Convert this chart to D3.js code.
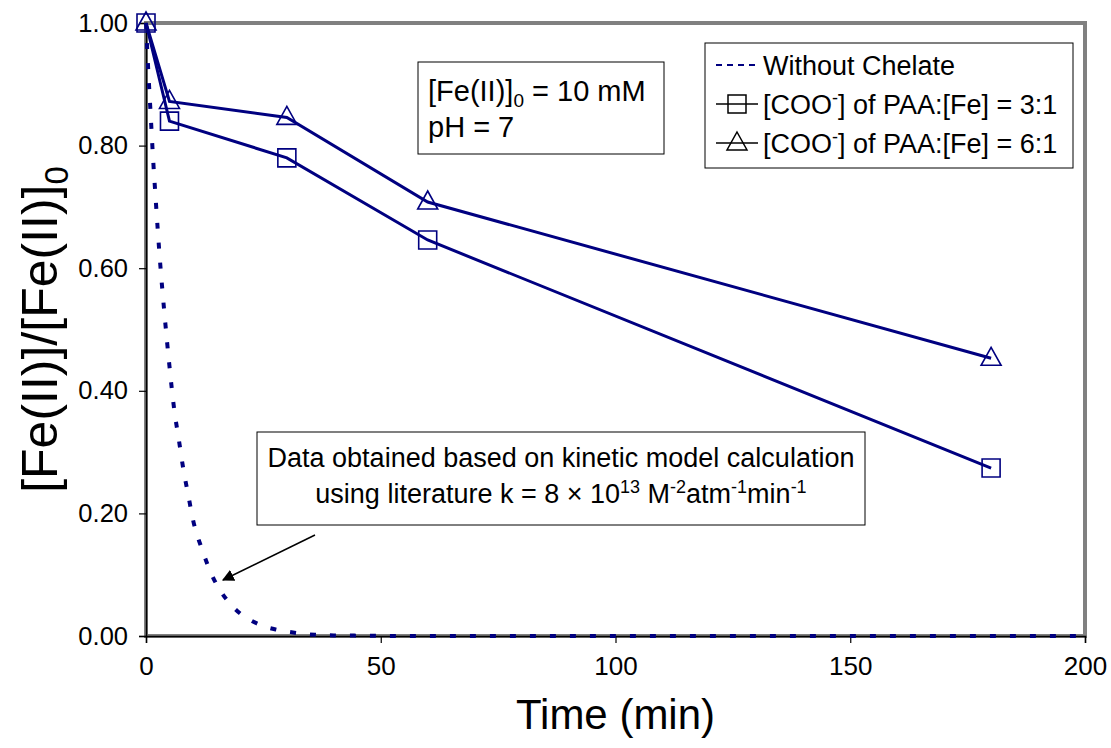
<!DOCTYPE html>
<html>
<head>
<meta charset="utf-8">
<script src="https://cdn.jsdelivr.net/npm/d3@7"></script>
<style>
  html, body { margin: 0; padding: 0; background: #fff; }
  svg text { font-family: "Liberation Sans", Arial, sans-serif; fill: #000; }
</style>
</head>
<body>
<div id="chart"></div>
<script>
// measured points
const timeMeasured = [0, 5, 30, 60, 180];
const ratio31 = [1.00, 0.840, 0.780, 0.646, 0.274];
const ratio61 = [1.00, 0.872, 0.846, 0.708, 0.453];

// kinetic model curve (no chelate)
const timeModel = [0, 0.5, 1, 1.5, 2, 3, 4, 5, 6, 7, 8, 9, 10, 12, 14, 16, 18, 20, 22, 25, 28, 32, 36, 40, 60, 100, 150, 200];
const ratioModel = [1.00, 0.92, 0.85, 0.78, 0.72, 0.61, 0.52, 0.44, 0.37, 0.32, 0.27, 0.23, 0.19, 0.14, 0.10, 0.072, 0.052, 0.037, 0.027, 0.016, 0.010, 0.005, 0.002, 0.001, 0, 0, 0, 0];

const xTicks = [0, 50, 100, 150, 200];
const yTicks = [0, 0.2, 0.4, 0.6, 0.8, 1.0];

const width = 1111, height = 748;
const navy = '#000080';

const svg = d3.select('#chart').append('svg')
  .attr('width', width)
  .attr('height', height);

const x = d3.scaleLinear().domain([0, 200]).range([146, 1085]);
const y = d3.scaleLinear().domain([0, 1]).range([636, 23]);

// plot area border
svg.append('rect')
  .attr('x', x(0)).attr('y', y(1))
  .attr('width', x(200) - x(0)).attr('height', y(0) - y(1))
  .attr('fill', 'none')
  .attr('stroke', '#808080')
  .attr('stroke-width', 4);

// axes
const xAxis = svg.append('g')
  .attr('transform', `translate(0,${y(0)})`)
  .call(d3.axisBottom(x).tickValues(xTicks).tickSize(7).tickPadding(14).tickFormat(d3.format('d')));
const yAxis = svg.append('g')
  .attr('transform', `translate(${x(0)},0)`)
  .call(d3.axisLeft(y).tickValues(yTicks).tickSize(7).tickPadding(11).tickFormat(d3.format('.2f')));

[xAxis, yAxis].forEach(g => {
  g.select('.domain').attr('stroke', '#000').attr('stroke-width', 1.5);
  g.selectAll('.tick line').attr('stroke', '#000').attr('stroke-width', 1.2);
  g.selectAll('.tick text').attr('font-family', '"Liberation Sans", Arial, sans-serif').attr('fill', '#000');
});
xAxis.selectAll('.tick text').attr('font-size', 26);
yAxis.selectAll('.tick text').attr('font-size', 25.5);

// axis titles
svg.append('text')
  .attr('x', (x(0) + x(200)) / 2)
  .attr('y', 729)
  .attr('text-anchor', 'middle')
  .attr('font-size', 42)
  .text('Time (min)');

const yTitle = svg.append('text')
  .attr('transform', `translate(57,${(y(0) + y(1)) / 2}) rotate(-90)`)
  .attr('text-anchor', 'middle')
  .attr('font-size', 50);
yTitle.append('tspan').text('[Fe(II)]/[Fe(II)]');
yTitle.append('tspan').attr('font-size', 33).attr('dy', 11).text('0');

// model curve
const modelPts = timeModel.map((t, i) => [t, ratioModel[i]]);
svg.append('path')
  .datum(modelPts)
  .attr('fill', 'none')
  .attr('stroke', navy)
  .attr('stroke-width', 4)
  .attr('stroke-dasharray', '6,14')
  .attr('d', d3.line().x(d => x(d[0])).y(d => y(d[1])).curve(d3.curveMonotoneX));

// measured series
const line = d3.line().x(d => x(d[0])).y(d => y(d[1]));
const series = [
  { name: '3:1', values: ratio31, marker: 'square' },
  { name: '6:1', values: ratio61, marker: 'triangle' }
];

const square = d3.symbol().type(d3.symbolSquare).size(18 * 18);
const triangle = 'M0,-11L10,7L-10,7Z';

series.forEach(s => {
  const pts = timeMeasured.map((t, i) => [t, s.values[i]]);
  svg.append('path')
    .datum(pts)
    .attr('fill', 'none')
    .attr('stroke', navy)
    .attr('stroke-width', 3)
    .attr('d', line);
  svg.selectAll(null)
    .data(pts)
    .enter()
    .append('path')
    .attr('transform', d => `translate(${x(d[0])},${y(d[1])})`)
    .attr('d', s.marker === 'square' ? square() : triangle)
    .attr('fill', 'none')
    .attr('stroke', navy)
    .attr('stroke-width', 1.6);
});

// info box
svg.append('rect')
  .attr('x', 418).attr('y', 62).attr('width', 246).attr('height', 92)
  .attr('fill', '#fff').attr('stroke', '#000').attr('stroke-width', 1);
const info1 = svg.append('text').attr('x', 428).attr('y', 101).attr('font-size', 29);
info1.append('tspan').text('[Fe(II)]');
info1.append('tspan').attr('font-size', 19).attr('dy', 6).text('0');
info1.append('tspan').attr('dy', -6).text(' = 10 mM');
svg.append('text').attr('x', 428).attr('y', 137).attr('font-size', 29).text('pH = 7');

// annotation box
svg.append('rect')
  .attr('x', 257).attr('y', 432).attr('width', 608).attr('height', 93)
  .attr('fill', '#fff').attr('stroke', '#000').attr('stroke-width', 1);
svg.append('text').attr('x', 561).attr('y', 467).attr('font-size', 27)
  .attr('text-anchor', 'middle')
  .text('Data obtained based on kinetic model calculation');
const ann2 = svg.append('text').attr('x', 561).attr('y', 503).attr('font-size', 27)
  .attr('text-anchor', 'middle');
ann2.append('tspan').text('using literature k = 8 \u00d7 10');
ann2.append('tspan').attr('font-size', 18).attr('dy', -10).text('13');
ann2.append('tspan').attr('dy', 10).text(' M');
ann2.append('tspan').attr('font-size', 18).attr('dy', -10).text('-2');
ann2.append('tspan').attr('dy', 10).text('atm');
ann2.append('tspan').attr('font-size', 18).attr('dy', -10).text('-1');
ann2.append('tspan').attr('dy', 10).text('min');
ann2.append('tspan').attr('font-size', 18).attr('dy', -10).text('-1');

// arrow
svg.append('defs').append('marker')
  .attr('id', 'arrowhead')
  .attr('viewBox', '0 0 10 10')
  .attr('refX', 9).attr('refY', 5)
  .attr('markerWidth', 8).attr('markerHeight', 8)
  .attr('orient', 'auto')
  .append('path').attr('d', 'M0,0L10,5L0,10Z').attr('fill', '#000');
svg.append('line')
  .attr('x1', 315).attr('y1', 535).attr('x2', 223).attr('y2', 580)
  .attr('stroke', '#000').attr('stroke-width', 1.5)
  .attr('marker-end', 'url(#arrowhead)');

// legend
const legend = svg.append('g');
legend.append('rect')
  .attr('x', 705).attr('y', 43).attr('width', 368).attr('height', 125)
  .attr('fill', '#fff').attr('stroke', '#000').attr('stroke-width', 1);

const legendItems = [
  { kind: 'dash', label: 'Without Chelate' },
  { kind: 'square', label: '3:1' },
  { kind: 'triangle', label: '6:1' }
];
legendItems.forEach((item, i) => {
  const cy = 65 + i * 39;
  const g = legend.append('g').attr('transform', `translate(0,${cy})`);
  if (item.kind === 'dash') {
    g.append('line').attr('x1', 716).attr('x2', 758).attr('y1', 0).attr('y2', 0)
      .attr('stroke', navy).attr('stroke-width', 2).attr('stroke-dasharray', '6,5');
    g.append('text').attr('x', 763).attr('y', 10).attr('font-size', 27).text(item.label);
  } else {
    g.append('line').attr('x1', 716).attr('x2', 758).attr('y1', 0).attr('y2', 0)
      .attr('stroke', '#000').attr('stroke-width', 1.5);
    g.append('path').attr('transform', 'translate(737,0)')
      .attr('d', item.kind === 'square' ? square() : triangle)
      .attr('fill', 'none').attr('stroke', '#000').attr('stroke-width', 1.5);
    const t = g.append('text').attr('x', 763).attr('y', 10).attr('font-size', 27);
    t.append('tspan').text('[COO');
    t.append('tspan').attr('font-size', 18).attr('dy', -10).text('-');
    t.append('tspan').attr('dy', 10).text('] of PAA:[Fe] = ' + item.label);
  }
});
</script>
</body>
</html>
